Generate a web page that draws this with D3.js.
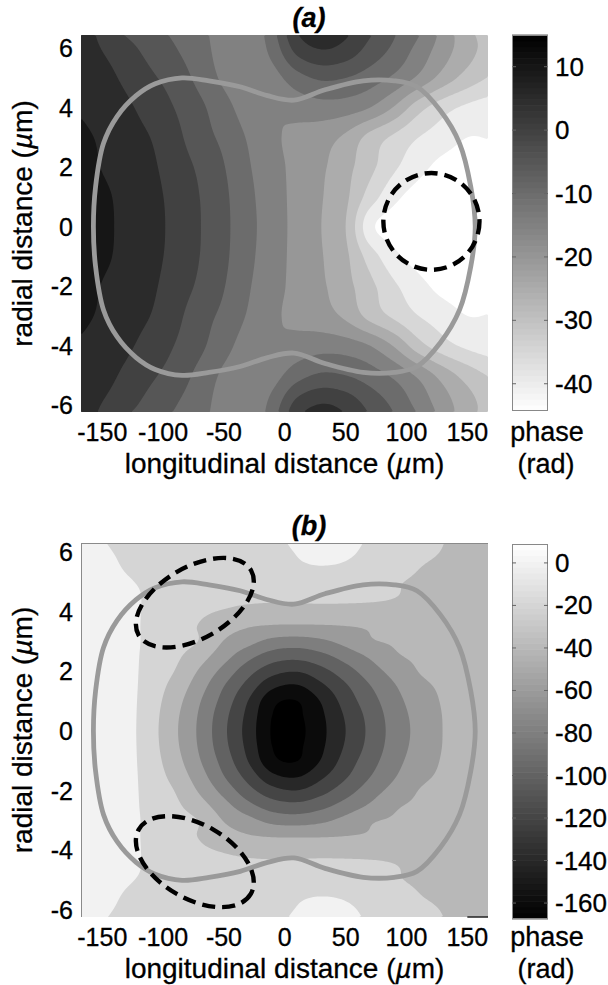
<!DOCTYPE html>
<html><head><meta charset="utf-8">
<script src="https://cdn.jsdelivr.net/npm/d3@7"></script>
<style>
body{margin:0;background:#fff}
svg{display:block}
text{font-family:"Liberation Sans",Arial,Helvetica,sans-serif;fill:#000;stroke:#000;stroke-width:0.3px}
</style>
</head><body>
<svg id="chart" width="608" height="985"></svg>
<script>
// ---------------- data ----------------
const gridX = [-170,-150,-130,-110,-90,-70,-50,-30,-10,10,30,50,70,90,110,130,150,170]; // µm
// radial sample positions (µm); both maps are mirror symmetric in radial distance
const gridYA = [0,1,2,3,4,5,6,7];
const gridYB = [0,0.5,1,1.5,2,2.5,3,3.5,4,4.5,5,5.5,6,6.5,7];

// panel (a): phase (rad), one row per gridYA value
const phaseA = [
  [14,11.2,8.8,6.5,3.8,0.2,-3.8,-8.5,-12.6,-16.5,-20,-25,-38.5,-42.5,-43.8,-44.2,-44,-43.5],
  [13.8,11,8.6,6.3,3.6,0,-4,-8.8,-12.8,-16.5,-19.7,-24,-32.3,-38.7,-42,-43.5,-43.8,-43.3],
  [12.5,9.8,7.9,5.8,2.7,-0.9,-4.8,-9.5,-13.3,-16.4,-19.2,-23.3,-28.6,-34.2,-38.4,-41.5,-42.5,-42],
  [11.2,9.2,7,4.9,1.4,-2.9,-6.2,-10.5,-14.1,-16.2,-17.8,-21,-26.7,-31,-35,-37.5,-40,-39.8],
  [9.6,7.6,5.8,3,-0.2,-3.9,-8.2,-12.5,-14.5,-13,-12,-12.5,-15,-20.5,-28,-33,-36,-37.5],
  [8.3,6.7,3.9,0.8,-2.2,-6.5,-11,-14,-12,-7,-4.2,-5,-7.5,-11,-16,-22,-27,-30.5],
  [7.2,4.8,1.5,-1.8,-4.8,-8.3,-11.8,-14,-8,2,5.3,3.5,-1.5,-6,-11.5,-17.5,-23,-27],
  [7.9,3,-2.4,-4.3,-6.8,-9.9,-10.5,-14,-5.7,6.5,8.5,7,2,-3.7,-8.1,-16.4,-24.5,-28.5]
];
// panel (b): phase (rad), one row per gridYB value
const phaseB = [
  [8.5,7.5,6,-13,-37.1,-64,-96,-128.3,-162,-165.2,-145.1,-120,-95.5,-72.2,-54.3,-39.8,-34,-30],
  [8.5,7.5,6,-12.4,-35.9,-62.7,-94,-126.2,-160.5,-163.4,-143.5,-117.8,-93.7,-70.9,-53.3,-39.6,-33.8,-30],
  [8.5,7.5,6,-11.1,-32.4,-58.6,-88.1,-120.6,-155,-160.3,-138.5,-111.6,-88.4,-67.4,-50.1,-38.7,-33.5,-29.7],
  [8.5,7.5,6,-9.4,-27.2,-51.4,-79.9,-108,-136,-142.2,-124.4,-102.9,-80.9,-61.8,-45.2,-37.5,-33,-29.4],
  [8.5,7.5,6,-7.8,-20.8,-42.5,-67,-92.6,-113,-119.3,-106.8,-88.8,-69.8,-53,-39.7,-35.5,-32,-29],
  [8.5,7.5,6,-6.5,-16.4,-31.7,-52.6,-74,-90,-94,-86,-72,-57.4,-42.7,-37.5,-34.5,-31.5,-28.5],
  [8.5,7.5,6,-5,-12.8,-21,-41,-53.6,-66.2,-69.1,-64,-53.7,-42,-38.5,-36,-33.5,-31,-28],
  [8.5,7.5,6,-5.2,-13.2,-21,-32,-39,-42,-42.5,-42,-40.5,-38.5,-37,-34.5,-32.5,-30.5,-27.5],
  [8.5,7.5,6,-4.5,-11,-17,-21.5,-26,-28.5,-29,-28.5,-28,-27.5,-27,-26.5,-26,-25.5,-25],
  [8.5,7.5,6,-4,-8.5,-12,-14,-15,-15,-14,-13,-14,-16,-19.5,-24,-25.5,-25.5,-25],
  [7,5,1.5,-3.5,-7,-10,-11.5,-11,-9,-6.5,-4.5,-5.5,-10,-18,-22,-24,-24.5,-24.5],
  [6,3.5,-1,-4.5,-7,-9,-9,-7.5,-4.5,-1.5,-0.3,-1.5,-6,-13,-19.5,-22.5,-23.5,-24],
  [4.5,1.5,-2,-5,-7,-8,-7,-5,-3.5,0.5,3,2,-3,-10,-16,-20.5,-23,-24],
  [3,0,-3,-6,-7.5,-8,-6.5,-4,-2,2.5,4.5,3.5,-1,-8,-14,-19.5,-22.5,-23.5],
  [2,-1,-4,-6.5,-8,-8,-6,-3.5,-1,3.5,5.5,4.5,0,-7,-13,-19,-22,-23]
];

const levelsA = [-40,-35,-30,-25,-20,-15,-10,-5,0,5,10];
const levelsB = [-160,-140,-120,-100,-80,-60,-40,-20,0];
const rangeA = [-44.3, 15];
const rangeB = [-167.5, 8.9];
const cbTicksA = [-40,-30,-20,-10,0,10];
const cbTicksB = [-160,-140,-120,-100,-80,-60,-40,-20,0];
const xTicks = [-150,-100,-50,0,50,100,150];
const yTicks = [-6,-4,-2,0,2,4,6];

// gray boundary outline (upper half, left to right), µm
const outlineX = [-157.3,-155.5,-149,-137.9,-122.2,-106.5,-84.4,-62.3,-36.7,-14.2,7.5,33,64.4,89.9,108.6,127.8,143.6,152.8,156.5];
const outlineY = [0,1.35,2.8,3.7,4.4,4.8,5.0,4.9,4.7,4.4,4.25,4.6,4.9,4.9,4.7,3.9,2.8,1.35,0];

// dashed regions: bounding box in µm and tilt (deg)
const dashedA = [{x0:81,x1:160,y0:-1.45,y1:1.8,tilt:0}];
const dashedB = [{x0:-122.4,x1:-25.5,y0:2.8,y1:5.8,tilt:30},{x0:-122.4,x1:-25.5,y0:-5.9,y1:-2.85,tilt:-30}];

// ---------------- layout ----------------
const svg = d3.select("#chart");
const plotL = 81, plotR = 488, cbL = 512, cbR = 548;
const FT = 25, FL = 28, FC = 26;
const panels = [
  {key:"a", title:"(a)", titleY:27, top:35, bottom:412, yDom:[-6.23,6.44], data:phaseA, gy:gridYA, levels:levelsA, range:rangeA,
   reversed:true, cbTop:35, cbBottom:411, cbTicks:cbTicksA, dashed:dashedA, frame:false},
  {key:"b", title:"(b)", titleY:535, top:543, bottom:917, yDom:[-6.23,6.3], data:phaseB, gy:gridYB, levels:levelsB, range:rangeB,
   reversed:false, cbTop:544, cbBottom:919, cbTicks:cbTicksB, dashed:dashedB, frame:true}
];

function cubic(p0,p1,p2,p3,t){
  return p1 + 0.5*t*(p2-p0 + t*(2*p0-5*p1+4*p2-p3 + t*(3*(p1-p2)+p3-p0)));
}
function fullGrid(rows){
  const f = [];
  for (let k = rows.length-1; k >= 1; k--) f.push(rows[k]);
  for (let k = 0; k < rows.length; k++) f.push(rows[k]);
  return f;
}
function sampler(rows, gy){
  const full = fullGrid(rows);
  const ny = full.length, nx = gridX.length;
  const dx = gridX[1]-gridX[0], dy = gy[1]-gy[0];
  const y0 = -gy[gy.length-1];
  const g = (a,b) => full[Math.max(0,Math.min(ny-1,b))][Math.max(0,Math.min(nx-1,a))];
  return (x,y) => {
    const fx = (x-gridX[0])/dx, fy = (y-y0)/dy;
    const i = Math.floor(fx), j = Math.floor(fy);
    const tx = fx-i, ty = fy-j;
    const c = [];
    for (let m=-1;m<=2;m++) c.push(cubic(g(i-1,j+m),g(i,j+m),g(i+1,j+m),g(i+2,j+m),tx));
    return cubic(c[0],c[1],c[2],c[3],ty);
  };
}

panels.forEach(p => {
  const W = plotR-plotL, H = p.bottom-p.top;
  const xs = d3.scaleLinear().domain([-167.5,167]).range([plotL,plotR]);
  const ys = d3.scaleLinear().domain(p.yDom).range([p.bottom,p.top]);
  const [vmin,vmax] = p.range;
  const tone = d3.scaleLinear().domain([vmin,vmax]).range(p.reversed?[1,0]:[0,1]).clamp(true);
  const gray = v => { const c = Math.round(255*tone(v)); return `rgb(${c},${c},${c})`; };

  const g = svg.append("g");
  const clipId = "clip"+p.key;
  g.append("clipPath").attr("id",clipId).append("rect")
    .attr("x",plotL).attr("y",p.top).attr("width",W).attr("height",H);

  // filled contours
  const f = sampler(p.data, p.gy);
  const step = 2;
  const nx = Math.ceil(W/step), ny = Math.ceil(H/step);
  const vals = new Array(nx*ny);
  for (let j=0;j<ny;j++){
    const y = ys.invert(p.top + (j+0.5)*H/ny);
    for (let i=0;i<nx;i++){
      const x = xs.invert(plotL + (i+0.5)*W/nx);
      vals[j*nx+i] = f(x,y);
    }
  }
  const conts = d3.contours().size([nx,ny]).thresholds(p.levels)(vals);
  const proj = d3.geoTransform({point(x,y){ this.stream.point(plotL + x*W/nx, p.top + y*H/ny); }});
  const path = d3.geoPath(proj);
  const fieldG = g.append("g").attr("clip-path",`url(#${clipId})`);
  fieldG.append("rect").attr("x",plotL).attr("y",p.top).attr("width",W).attr("height",H)
    .attr("fill", gray(vmin));
  conts.forEach((c,k) => {
    fieldG.append("path").attr("d",path(c)).attr("fill",gray(p.levels[k]));
  });

  // gray outline
  const pts = outlineX.map((x,i)=>[x,outlineY[i]]);
  const lower = pts.slice(1,-1).reverse().map(d=>[d[0],-d[1]]);
  const ring = pts.concat(lower);
  fieldG.append("path")
    .attr("d", d3.line().x(d=>xs(d[0])).y(d=>ys(d[1])).curve(d3.curveCatmullRomClosed)(ring))
    .attr("fill","none").attr("stroke","#9a9a9a").attr("stroke-width",4.8);

  // dashed regions
  p.dashed.forEach(e => {
    const cx = xs((e.x0+e.x1)/2), cy = ys((e.y0+e.y1)/2);
    const w = (xs(e.x1)-xs(e.x0))/2, h = (ys(e.y0)-ys(e.y1))/2;
    const th = e.tilt*Math.PI/180;
    const c2 = Math.cos(2*th);
    const s = w*w+h*h, d = (w*w-h*h)/c2;
    const a = Math.sqrt(Math.max(1,(s+d)/2)), b = Math.sqrt(Math.max(1,(s-d)/2));
    fieldG.append("ellipse").attr("cx",cx).attr("cy",cy).attr("rx",a).attr("ry",b)
      .attr("transform",`rotate(${-e.tilt},${cx},${cy})`)
      .attr("fill","none").attr("stroke","#000").attr("stroke-width",4.4)
      .attr("stroke-dasharray","13,7");
  });

  if (p.frame){
    g.append("line").attr("x1",plotL).attr("x2",plotR).attr("y1",p.top+0.5).attr("y2",p.top+0.5).attr("stroke","#8a8a8a");
    g.append("line").attr("x1",plotL+0.5).attr("x2",plotL+0.5).attr("y1",p.top).attr("y2",p.bottom).attr("stroke","#8a8a8a");
    g.append("line").attr("x1",xs(150)).attr("x2",plotR).attr("y1",p.bottom).attr("y2",p.bottom).attr("stroke","#222").attr("stroke-width",1.5);
  }

  // axis texts
  g.selectAll(".xt").data(xTicks).enter().append("text")
    .attr("x",d=>xs(d)).attr("y",p.bottom+29).attr("text-anchor","middle")
    .attr("font-size",FT).text(d=>d);
  g.selectAll(".yt").data(yTicks).enter().append("text")
    .attr("x",73).attr("y",d=>ys(d)+9).attr("text-anchor","end")
    .attr("font-size",FT).text(d=>d);
  const xl = g.append("text").attr("x",(plotL+plotR)/2).attr("y",p.bottom+61)
    .attr("text-anchor","middle").attr("font-size",FL);
  xl.append("tspan").text("longitudinal distance (");
  xl.append("tspan").attr("font-style","italic").text("µ");
  xl.append("tspan").text("m)");
  const ymid = (p.top+p.bottom)/2;
  const yl = g.append("text").attr("transform",`translate(32,${ymid}) rotate(-90)`)
    .attr("text-anchor","middle").attr("font-size",FL);
  yl.append("tspan").text("radial distance (");
  yl.append("tspan").attr("font-style","italic").text("µ");
  yl.append("tspan").text("m)");
  g.append("text").attr("x",309).attr("y",p.titleY).attr("text-anchor","middle")
    .attr("font-size",27).attr("font-weight","bold").attr("font-style","italic").text(p.title);

  // colorbar
  const cs = d3.scaleLinear().domain([vmin,vmax]).range([p.cbBottom,p.cbTop]);
  const nSteps = 64;
  const steps = d3.range(nSteps).map(k => vmin + (k+0.5)*(vmax-vmin)/nSteps);
  const cbH = (p.cbBottom-p.cbTop)/nSteps;
  g.selectAll(".cb").data(steps).enter().append("rect")
    .attr("x",cbL).attr("width",cbR-cbL)
    .attr("y",d=>cs(d)-cbH/2-0.3).attr("height",cbH+0.6)
    .attr("fill",d=>gray(d));
  g.append("rect").attr("x",cbL+0.5).attr("y",p.cbTop+0.5).attr("width",cbR-cbL-1).attr("height",p.cbBottom-p.cbTop-1)
    .attr("fill","none").attr("stroke","#888").attr("stroke-width",1);
  p.cbTicks.forEach(t => {
    g.append("line").attr("x1",cbL).attr("x2",cbL+4).attr("y1",cs(t)).attr("y2",cs(t)).attr("stroke","#666");
    g.append("line").attr("x1",cbR-4).attr("x2",cbR).attr("y1",cs(t)).attr("y2",cs(t)).attr("stroke","#666");
  });
  g.selectAll(".ct").data(p.cbTicks).enter().append("text")
    .attr("x",555).attr("y",d=>cs(d)+9).attr("font-size",FC).text(d=>d);
  g.append("text").attr("x",547).attr("y",p.bottom+29).attr("text-anchor","middle").attr("font-size",27).text("phase");
  g.append("text").attr("x",546).attr("y",p.bottom+61).attr("text-anchor","middle").attr("font-size",27).text("(rad)");
});
</script>
</body></html>
